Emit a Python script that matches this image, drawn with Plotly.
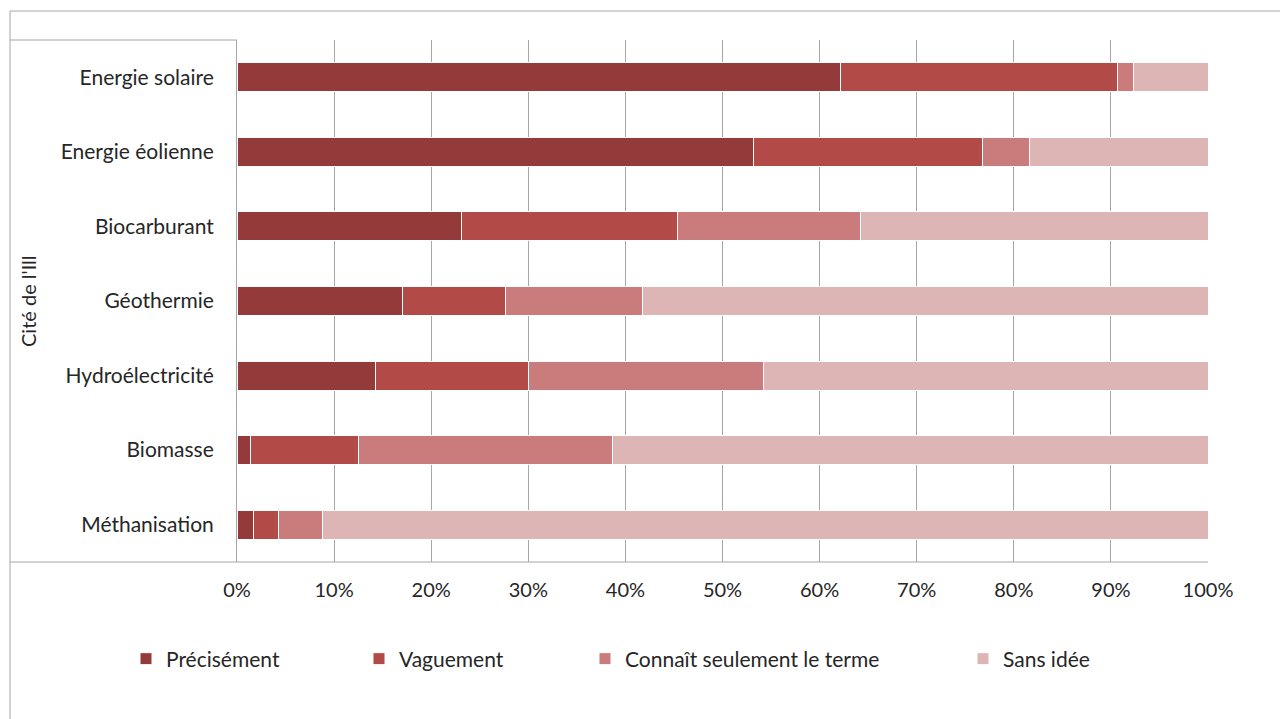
import plotly.graph_objects as go

categories = ["Energie solaire", "Energie éolienne", "Biocarburant", "Géothermie",
              "Hydroélectricité", "Biomasse", "Méthanisation"]
series_names = ["Précisément", "Vaguement", "Connaît seulement le terme", "Sans idée"]
precisement = [62.2, 53.2, 23.1, 17.0, 14.3, 1.4, 1.7]
vaguement = [28.5, 23.6, 22.3, 10.7, 15.7, 11.1, 2.6]
connait = [1.6, 4.8, 18.8, 14.1, 24.2, 26.2, 4.5]
sans_idee = [7.7, 18.4, 35.8, 58.2, 45.8, 61.3, 91.2]
colors = ["#943A3A", "#B24B48", "#C97C7B", "#DEB5B5"]
axis_title = "Cité de l'Ill"

values = [precisement, vaguement, connait, sans_idee]
FONT = "Lato"
TXT = "#262626"
GRID = "#A6A6A6"

fig = go.Figure()
legend_ids = ["legend", "legend2", "legend3", "legend4"]
for name, vals, col, lg in zip(series_names, values, colors, legend_ids):
    fig.add_trace(go.Bar(
        y=categories, x=[v / 100 for v in vals], name=name, orientation="h",
        marker=dict(color=col, line=dict(color="white", width=1)),
        legend=lg, showlegend=True,
    ))

# pixel -> paper helpers (plot area 237..1208 x, 40..562 y)
L, R, T, B = 237, 1208, 40, 562
def px(x):
    return (x - L) / (R - L)
def py(y):
    return (B - y) / (B - T)

shapes = [
    dict(type="line", xref="paper", yref="paper", x0=px(10), x1=px(1290), y0=py(11), y1=py(11),
         line=dict(color=GRID, width=1)),
    dict(type="line", xref="paper", yref="paper", x0=px(10), x1=px(10), y0=py(11), y1=py(730),
         line=dict(color=GRID, width=1)),
    dict(type="line", xref="paper", yref="paper", x0=px(10), x1=px(237), y0=1, y1=1,
         line=dict(color=GRID, width=1)),
    dict(type="line", xref="paper", yref="paper", x0=px(10), x1=1, y0=0, y1=0,
         line=dict(color=GRID, width=1)),
]

legend_x = [150, 383, 609, 987]
leg_layout = {}
for lg, lx in zip(legend_ids, legend_x):
    leg_layout[lg] = dict(x=px(lx - 24), y=py(659), xanchor="left", yanchor="middle",
                          orientation="h", bgcolor="rgba(0,0,0,0)",
                          font=dict(family=FONT, size=21, color=TXT),
                          itemwidth=30, traceorder="normal", visible=True)

fig.update_layout(
    width=1280, height=719,
    margin=dict(l=L, r=1280 - R, t=T, b=719 - B),
    paper_bgcolor="white", plot_bgcolor="white",
    barmode="stack", bargap=0.61, showlegend=True,
    font=dict(family=FONT, size=20, color=TXT),
    xaxis=dict(range=[0, 1], dtick=0.1, tick0=0, tickformat=".0%",
               showgrid=True, gridcolor=GRID, gridwidth=1, zeroline=False,
               showline=False, ticks="", ticklabelstandoff=14,
               tickfont=dict(family=FONT, size=20, color=TXT)),
    yaxis=dict(categoryorder="array", categoryarray=categories[::-1],
               showgrid=False, zeroline=False, showline=True, linecolor=GRID, linewidth=1,
               ticks="", ticklabelstandoff=18,
               tickfont=dict(family=FONT, size=21, color=TXT)),
    shapes=shapes,
    annotations=[dict(text=axis_title, xref="paper", yref="paper", x=px(28), y=py(301),
                      textangle=-90, showarrow=False, xanchor="center", yanchor="middle",
                      font=dict(family=FONT, size=20, color=TXT))],
    **leg_layout,
)

fig.write_html("out.html")
